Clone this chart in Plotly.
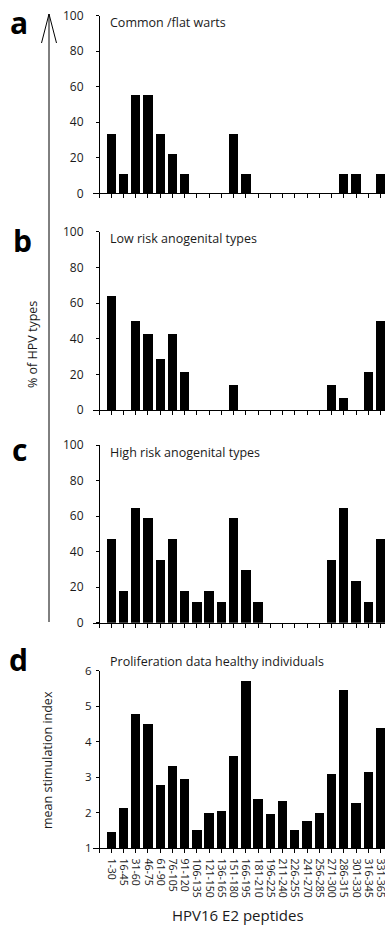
import plotly.graph_objects as go

categories = ["1-30", "16-45", "31-60", "46-75", "61-90", "76-105", "91-120", "106-135",
              "121-150", "136-165", "151-180", "166-195", "181-210", "196-225", "211-240",
              "226-255", "241-270", "256-285", "271-300", "286-315", "301-330", "316-345",
              "331-365"]

common_warts = [33.3, 11.1, 55.6, 55.6, 33.3, 22.2, 11.1, 0, 0, 0, 33.3, 11.1, 0, 0, 0, 0,
                0, 0, 0, 11.1, 11.1, 0, 11.1]
low_risk = [64.3, 0, 50, 42.9, 28.6, 42.9, 21.4, 0, 0, 0, 14.3, 0, 0, 0, 0, 0, 0, 0, 14.3,
            7.1, 0, 21.4, 50]
high_risk = [47.1, 17.6, 64.7, 58.8, 35.3, 47.1, 17.6, 11.8, 17.6, 11.8, 58.8, 29.4, 11.8,
             0, 0, 0, 0, 0, 35.3, 64.7, 23.5, 11.8, 47.1]
stim_index = [1.48, 2.13, 4.79, 4.51, 2.79, 3.33, 2.95, 1.53, 2.01, 2.05, 3.61, 5.73, 2.39,
              1.98, 2.33, 1.53, 1.77, 2.01, 3.11, 5.47, 2.27, 3.16, 4.39]

panel_titles = ["Common /flat warts", "Low risk anogenital types",
                "High risk anogenital types", "Proliferation data healthy individuals"]
panel_letters = ["a", "b", "c", "d"]
pct_ticks = [0, 20, 40, 60, 80, 100]
stim_ticks = [1, 2, 3, 4, 5, 6]

W, H = 385, 937
L = 93
PW = W - L
FONT = "Open Sans"
INK = "#1a1a1a"


def fx(px):
    return (px - L) / PW


def fy(py):
    return (H - py) / H


idx = list(range(len(categories)))
xr = [-1.49, 22.37]
yaxis_pos = fx(99)

# pixel rows (bottom, top) of each plot
rows = [(193.3, 15.7), (410, 231.7), (622.7, 445), (848.3, 670.7)]
series = [common_warts, low_risk, high_risk, stim_index]

fig = go.Figure()
layout = {}
for i, (vals, (pb, pt)) in enumerate(zip(series, rows)):
    n = i + 1
    xa = "x" if n == 1 else f"x{n}"
    ya = "y" if n == 1 else f"y{n}"
    fig.add_trace(go.Bar(x=idx, y=vals, xaxis=xa, yaxis=ya, width=0.76,
                         marker=dict(color="black", line=dict(width=0)),
                         showlegend=False, hoverinfo="skip"))
    last = (n == 4)
    layout[f"xaxis{'' if n == 1 else n}"] = dict(
        domain=[0, 1], range=xr, anchor=ya, showgrid=False, zeroline=False,
        automargin=False, ticklabeloverflow="allow",
        showline=True, linecolor="black", linewidth=1,
        tickmode="array", tickvals=list(range(-1, len(categories))),
        ticktext=[""] + categories if last else [""] * (len(categories) + 1),
        showticklabels=last, ticks="outside", ticklen=4, tickwidth=1, tickcolor="black",
        tickangle=90, ticklabelstandoff=3,
        tickfont=dict(family=FONT, size=10.5, color=INK),
    )
    layout[f"yaxis{'' if n == 1 else n}"] = dict(
        domain=[fy(pb), fy(pt)], anchor="free", position=yaxis_pos,
        automargin=False,
        range=[1, 6] if last else [0, 100],
        tickvals=stim_ticks if last else pct_ticks,
        showgrid=False, zeroline=False, showline=True, linecolor="black", linewidth=1,
        ticks="outside", ticklen=3, tickwidth=1, tickcolor="black",
        ticklabelstandoff=2 if last else 10,
        tickfont=dict(family=FONT, size=11.5 if last else 12, color=INK),
    )

# inside ticks for panel d
layout["xaxis5"] = dict(domain=[0, 1], range=xr, anchor="y4", overlaying="x4",
                        automargin=False,
                        tickmode="array", tickvals=list(range(-1, len(categories))),
                        showticklabels=False, ticks="inside", ticklen=2, tickwidth=1,
                        tickcolor="black", showline=False, showgrid=False, zeroline=False)
fig.add_trace(go.Bar(x=[], y=[], xaxis="x5", yaxis="y4", showlegend=False))

annotations = []
title_y = [23, 238, 452, 661]
for t, ty in zip(panel_titles, title_y):
    annotations.append(dict(text=t, x=fx(108), y=fy(ty), xref="paper", yref="paper",
                            xanchor="left", yanchor="middle", showarrow=False,
                            font=dict(family=FONT, size=12.5, color=INK)))
letter_pos = [(18.5, 22), (22, 240), (19, 450), (18.5, 659)]
for t, (lx, ly) in zip(panel_letters, letter_pos):
    annotations.append(dict(text=f"<b>{t}</b>", x=fx(lx), y=fy(ly), xref="paper",
                            yref="paper", xanchor="center", yanchor="middle",
                            showarrow=False, font=dict(family=FONT, size=30, color="black")))
annotations.append(dict(text="% of HPV types", x=fx(33), y=fy(345), xref="paper",
                        yref="paper", xanchor="center", yanchor="middle", textangle=-90,
                        showarrow=False, font=dict(family=FONT, size=12.5, color=INK)))
annotations.append(dict(text="mean stimulation index", x=fx(47), y=fy(760), xref="paper",
                        yref="paper", xanchor="center", yanchor="middle", textangle=-90,
                        showarrow=False, font=dict(family=FONT, size=12.5, color=INK)))
annotations.append(dict(text="HPV16 E2 peptides", x=fx(238), y=fy(915), xref="paper",
                        yref="paper", xanchor="center", yanchor="middle",
                        showarrow=False, font=dict(family=FONT, size=15, color=INK)))

shapes = [
    dict(type="line", xref="paper", yref="paper", x0=fx(49), x1=fx(49), y0=fy(14),
         y1=fy(622), line=dict(color="black", width=1)),
    dict(type="path", xref="paper", yref="paper",
         path=f"M {fx(41.5)},{fy(43)} L {fx(49)},{fy(14)} L {fx(56.5)},{fy(43)}",
         line=dict(color="black", width=1)),
]

fig.update_layout(
    width=W, height=H, margin=dict(l=L, r=0, t=0, b=0, pad=0, autoexpand=False),
    paper_bgcolor="white", plot_bgcolor="white",
    annotations=annotations, shapes=shapes, bargap=0, **layout,
)

fig.write_html(
    "out.html",
    config={"displayModeBar": False},
    post_script="document.body.style.margin='0';document.body.style.overflow='hidden';",
)
